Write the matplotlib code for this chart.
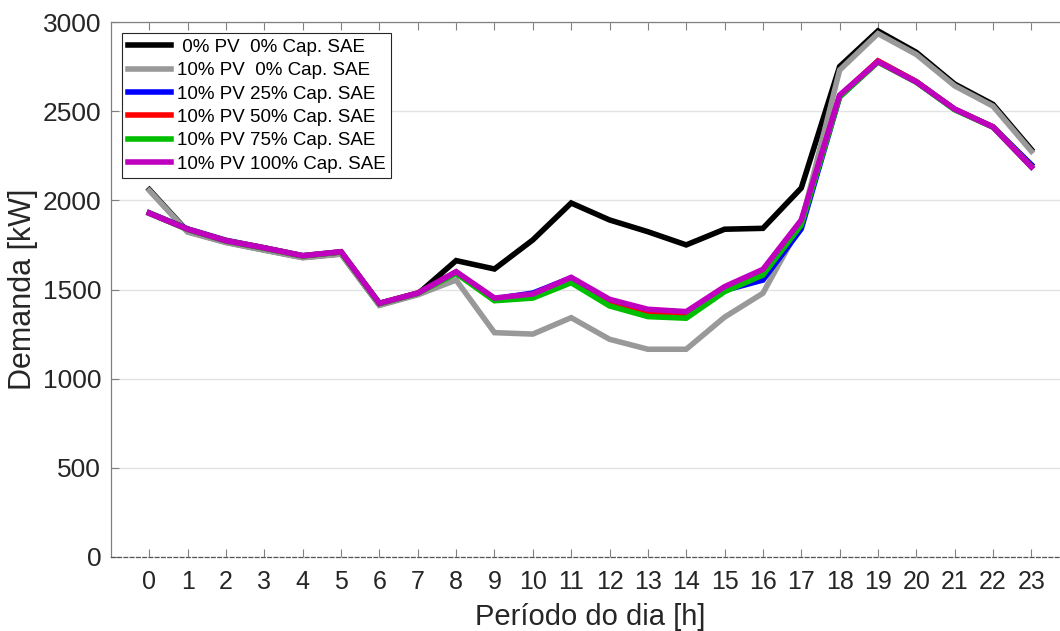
import matplotlib
matplotlib.use("Agg")
import matplotlib.pyplot as plt

plt.rcParams['font.family'] = ['Liberation Sans', 'DejaVu Sans']

hours = list(range(24))

demand_0pv_0sae = [2060, 1825, 1765, 1722, 1680, 1700, 1413, 1475, 1662, 1615, 1778, 1985,
                   1890, 1824, 1750, 1838, 1843, 2069, 2750, 2950, 2830, 2652, 2538, 2285]
demand_10pv_0sae = [2055, 1822, 1763, 1720, 1678, 1698, 1411, 1470, 1553, 1258, 1250, 1342,
                    1221, 1165, 1165, 1345, 1479, 1870, 2730, 2935, 2818, 2642, 2528, 2275]
demand_10pv_25sae = [1930, 1840, 1776, 1734, 1690, 1711, 1422, 1480, 1597, 1448, 1480, 1565,
                     1440, 1382, 1370, 1495, 1553, 1840, 2580, 2780, 2665, 2510, 2412, 2200]
demand_10pv_50sae = [1928, 1838, 1774, 1733, 1689, 1711, 1422, 1480, 1597, 1445, 1470, 1558,
                     1425, 1368, 1358, 1505, 1600, 1880, 2585, 2782, 2666, 2511, 2412, 2190]
demand_10pv_75sae = [1927, 1836, 1772, 1731, 1688, 1710, 1421, 1479, 1590, 1437, 1452, 1538,
                     1408, 1348, 1339, 1488, 1581, 1862, 2580, 2775, 2662, 2508, 2410, 2188]
demand_10pv_100sae = [1927, 1838, 1773, 1733, 1689, 1712, 1423, 1480, 1600, 1452, 1475, 1568,
                      1445, 1389, 1376, 1516, 1613, 1890, 2590, 2778, 2664, 2512, 2411, 2187]

series = [
    (demand_0pv_0sae, '#000000', ' 0% PV  0% Cap. SAE'),
    (demand_10pv_0sae, '#999999', '10% PV  0% Cap. SAE'),
    (demand_10pv_25sae, '#0000FF', '10% PV 25% Cap. SAE'),
    (demand_10pv_50sae, '#FF0000', '10% PV 50% Cap. SAE'),
    (demand_10pv_75sae, '#00BF00', '10% PV 75% Cap. SAE'),
    (demand_10pv_100sae, '#BF00BF', '10% PV 100% Cap. SAE'),
]

y_ticks = [0, 500, 1000, 1500, 2000, 2500, 3000]

fig = plt.figure(figsize=(10.6, 6.31), dpi=100)
W, H = 1060, 631
x0, y_top, y_bot = 111, 22, 557
unit = (1031 - 149) / 23.0
ax = fig.add_axes([x0 / W, (H - y_bot) / H, 25 * unit / W, (y_bot - y_top) / H])

for vals, col, lab in series:
    ax.plot(hours, vals, color=col, lw=4, label=lab, solid_joinstyle='miter')

ax.set_xlim(-1, 24)
ax.set_ylim(0, 3000)
ax.set_xticks(hours)
ax.set_xticklabels([str(h) for h in hours])
ax.set_yticks(y_ticks)
ax.set_yticklabels([str(v) for v in y_ticks])

ax.yaxis.grid(True, color='#e3e3e3', lw=1)
ax.set_axisbelow(True)

txt = '#262626'
for side in ['left', 'top', 'right']:
    ax.spines[side].set_color('#808080')
    ax.spines[side].set_linewidth(0.9)
ax.spines['bottom'].set_color('#555555')
ax.spines['bottom'].set_linewidth(0.9)
ax.spines['bottom'].set_linestyle((0, (3, 2)))

ax.tick_params(axis='both', direction='in', length=6, width=0.8, color='#808080',
               labelcolor=txt, top=True)
ax.tick_params(axis='x', labelsize=18, pad=9.5)
ax.tick_params(axis='y', labelsize=19, pad=7)

ax.set_xlabel('Período do dia [h]', fontsize=21, color=txt, labelpad=6)
ax.set_ylabel('Demanda [kW]', fontsize=22, color=txt, labelpad=3)

leg = ax.legend(loc='upper left', fontsize=13.5, frameon=True, fancybox=False,
                edgecolor='#262626', framealpha=1, handlelength=2.3,
                handletextpad=0.3, labelspacing=0.33, borderaxespad=0.6,
                borderpad=0.3)
leg.get_frame().set_linewidth(0.8)
for t in leg.get_texts():
    t.set_color('#000000')

fig.savefig('out.png', dpi=100)
